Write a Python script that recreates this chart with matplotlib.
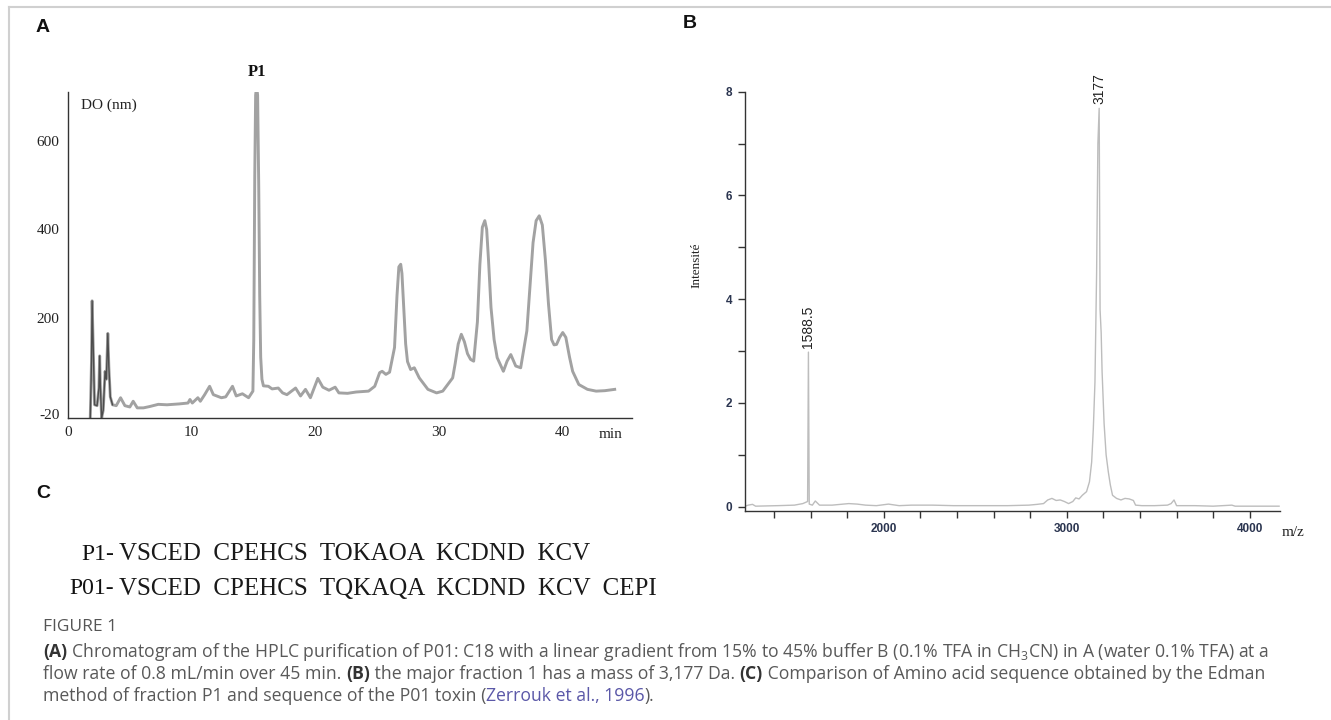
import matplotlib
matplotlib.use('Agg')
import matplotlib.pyplot as plt
from matplotlib.lines import Line2D
from matplotlib.transforms import blended_transform_factory

plt.rcParams['mathtext.fontset'] = 'custom'
plt.rcParams['mathtext.rm'] = 'Open Sans'
plt.rcParams['mathtext.it'] = 'Open Sans:italic'
plt.rcParams['mathtext.bf'] = 'Open Sans:bold'

# ---------------- data: panel A (HPLC chromatogram) ----------------
A_time = [1.80, 1.90, 1.95, 2.05, 2.15, 2.35, 2.50, 2.56, 2.62, 2.72,
          2.85, 3.00, 3.10, 3.22, 3.30, 3.42, 3.60, 3.90, 4.25, 4.60,
          5.00, 5.27, 5.60, 6.10, 6.60, 7.30, 8.00, 9.00, 9.70, 9.86,
          10.05, 10.50, 10.70, 11.05, 11.45, 11.75, 12.40, 12.75, 13.30, 13.60,
          14.10, 14.60, 14.95, 15.02, 15.10, 15.17, 15.25, 15.33, 15.42, 15.50,
          15.58, 15.68, 15.80, 16.20, 16.50, 17.00, 17.35, 17.70, 18.40, 18.80,
          19.20, 19.60, 20.20, 20.60, 21.10, 21.60, 21.90, 22.60, 23.30, 24.30,
          24.80, 25.20, 25.40, 25.70, 26.00, 26.40, 26.60, 26.75, 26.90, 27.00,
          27.15, 27.30, 27.45, 27.70, 28.00, 28.40, 29.10, 29.80, 30.30, 30.80,
          31.10, 31.30, 31.55, 31.80, 32.05, 32.30, 32.55, 32.80, 33.10, 33.30,
          33.50, 33.70, 33.85, 34.00, 34.20, 34.45, 34.70, 35.20, 35.50, 35.80,
          36.20, 36.60, 37.10, 37.35, 37.60, 37.85, 38.10, 38.35, 38.60, 38.85,
          39.10, 39.30, 39.50, 39.75, 40.00, 40.25, 40.55, 40.80, 41.30, 42.00,
          42.70, 43.40, 44.20]
A_signal = [-28, 100, 238, 120, 2, 0, 40, 113, 40, -28,
            -10, 78, 60, 164, 90, 20, 2, 0, 18, 0,
            -3, 10, -5, -5, -2, 3, 2, 4, 6, 14,
            6, 18, 10, 25, 44, 25, 18, 20, 44, 22,
            27, 18, 33, 150, 520, 705, 724, 705, 500, 250,
            110, 60, 45, 44, 38, 40, 29, 25, 40, 22,
            37, 18, 62, 42, 35, 42, 29, 28, 31, 33,
            44, 75, 78, 71, 76, 132, 250, 315, 321, 300,
            220, 140, 100, 82, 86, 63, 37, 29, 33, 52,
            63, 95, 140, 162, 145, 118, 105, 101, 190, 320,
            405, 420, 400, 330, 223, 150, 109, 78, 101, 116,
            90, 86, 170, 270, 370, 420, 431, 410, 330, 230,
            150, 138, 139, 155, 166, 155, 110, 78, 48, 37,
            33, 34, 37]
A_xticks = [0, 10, 20, 30, 40]
A_xticklabels = ['0', '10', '20', '30', '40']
A_yticks = [-20, 200, 400, 600]
A_yticklabels = ['-20', '200', '400', '600']
A_peak_label = 'P1'
A_peak_time = 15.25

# ---------------- data: panel B (mass spectrum) ----------------
B_mz = [1242, 1260, 1283, 1300, 1420, 1512, 1558, 1571, 1584, 1588.5,
        1593, 1610, 1626, 1649, 1718, 1809, 1855, 1901, 1960, 2026,
        2084, 2152, 2267, 2381, 2495, 2587, 2678, 2793, 2838, 2873,
        2896, 2919, 2942, 2964, 2987, 3010, 3033, 3049, 3067, 3085,
        3108, 3124, 3136, 3145, 3154, 3163, 3170, 3177, 3182, 3188,
        3193, 3204, 3215, 3227, 3238, 3250, 3272, 3296, 3318, 3341,
        3364, 3376, 3410, 3480, 3550, 3570, 3586, 3600, 3700, 3800,
        3902, 3920, 4000, 4160]
B_intensity = [0.01, 0.03, 0.045, 0.01, 0.02, 0.03, 0.06, 0.08, 0.10, 2.98,
               0.05, 0.03, 0.11, 0.03, 0.03, 0.06, 0.05, 0.03, 0.02, 0.05,
               0.02, 0.03, 0.03, 0.02, 0.02, 0.02, 0.02, 0.03, 0.045, 0.06,
               0.13, 0.16, 0.12, 0.13, 0.10, 0.06, 0.10, 0.17, 0.15, 0.22,
               0.29, 0.48, 0.86, 1.5, 2.4, 4.5, 7.0, 7.68, 3.8, 3.35,
               2.6, 1.6, 1.0, 0.67, 0.42, 0.22, 0.16, 0.13, 0.16, 0.15,
               0.12, 0.03, 0.02, 0.02, 0.03, 0.06, 0.13, 0.02, 0.02, 0.01,
               0.03, 0.01, 0.01, 0.01]
B_peak_mz = [1588.5, 3177]
B_peak_top = [2.98, 7.68]
B_peak_labels = ['1588.5', '3177']
B_xticks = [2000, 3000, 4000]
B_xminor = [1400, 1600, 1800, 2200, 2400, 2600, 2800, 3200, 3400, 3600, 3800]
B_yticks = [0, 2, 4, 6, 8]
B_yminor = [1, 3, 5, 7]

# ---------------- data: panel C (sequences) ----------------
C_prefix = ['P1-', 'P01-']
C_sequence = ['VSCED  CPEHCS  TOKAOA  KCDND  KCV',
              'VSCED  CPEHCS  TQKAQA  KCDND  KCV  CEPI']

# ---------------- caption ----------------
caption_title = 'FIGURE 1'
caption_lines = [
    [('(A)', 'b'), (' Chromatogram of the HPLC purification of P01: C18 with a linear gradient '
                    'from 15% to 45% buffer B (0.1% TFA in CH$_3$CN) in A (water 0.1% TFA) at a', 'n')],
    [('flow rate of 0.8 mL/min over 45 min. ', 'n'), ('(B)', 'b'),
     (' the major fraction 1 has a mass of 3,177 Da. ', 'n'), ('(C)', 'b'),
     (' Comparison of Amino acid sequence obtained by the Edman', 'n')],
    [('method of fraction P1 and sequence of the P01 toxin (', 'n'),
     ('Zerrouk et al., 1996', 'l'), (').', 'n')],
]

W, H = 1331, 720
fig = plt.figure(figsize=(W / 100, H / 100), dpi=100)


def fx(x):
    return x / W


def fy(y):
    return 1 - y / H


# outer frame lines
fig.add_artist(Line2D([fx(9), 1], [fy(7), fy(7)], color='#d0d0d0', lw=1.5))
fig.add_artist(Line2D([fx(9), fx(9)], [fy(7), 0], color='#d0d0d0', lw=1.5))

serif = 'Liberation Serif'
sans = 'Liberation Sans'

# ---------------- panel A ----------------
axA = fig.add_axes([fx(68), fy(418), fx(632) - fx(68), fy(92) - fy(418)])
axA.plot(A_time, A_signal, color='#a2a2a2', lw=2.1, solid_joinstyle='round')
axA.plot(A_time[:17], A_signal[:17], color='#4d4d4d', lw=1.0)
axA.set_xlim(0, 45.6)
axA.set_ylim(-28, 712)
for s in ['top', 'right']:
    axA.spines[s].set_visible(False)
for s in ['left', 'bottom']:
    axA.spines[s].set_color('#333333')
    axA.spines[s].set_linewidth(1.0)
axA.set_xticks(A_xticks)
axA.set_xticklabels(A_xticklabels, fontfamily=serif, fontsize=11)
axA.set_yticks(A_yticks)
axA.set_yticklabels(A_yticklabels, fontfamily=serif, fontsize=11)
axA.tick_params(length=0, pad=6, colors='#222222')
trA = blended_transform_factory(axA.transData, axA.transAxes)
axA.text(43.9, -0.03, 'min', transform=trA, ha='center', va='top',
         fontfamily=serif, fontsize=11, color='#222222')
axA.text(0.023, 0.96, 'DO (nm)', transform=axA.transAxes, ha='left', va='center',
         fontfamily=serif, fontsize=11, color='#222222')
axA.text(A_peak_time, 1.062, A_peak_label, transform=trA, ha='center', va='center',
         fontfamily=serif, fontsize=12, fontweight='bold', color='#111111', clip_on=False)

# ---------------- panel B ----------------
axB = fig.add_axes([fx(745), fy(511), fx(1280) - fx(745), fy(91.7) - fy(511)])
axB.plot(B_mz, B_intensity, color='#bdbdbd', lw=1.0)
axB.set_xlim(1242, 4165)
axB.set_ylim(-0.083, 8)
for s in ['top', 'right']:
    axB.spines[s].set_visible(False)
for s in ['left', 'bottom']:
    axB.spines[s].set_color('#333333')
    axB.spines[s].set_linewidth(1.0)
axB.set_xticks(B_xticks)
axB.set_xticks(B_xminor, minor=True)
axB.set_yticks(B_yticks)
axB.set_yticks(B_yminor, minor=True)
axB.tick_params(which='both', length=5, width=1, color='#333333', pad=4)
for lab in axB.get_xticklabels() + axB.get_yticklabels():
    lab.set_fontfamily(sans)
    lab.set_fontweight('bold')
    lab.set_fontsize(8.5)
    lab.set_color('#2b3550')
trB = blended_transform_factory(axB.transData, axB.transAxes)
axB.text(4175, -0.035, 'm/z', transform=trB, ha='left', va='top',
         fontfamily=serif, fontsize=11, color='#222222', clip_on=False)
axB.text(-0.09, 0.585, 'Intensité', transform=axB.transAxes, rotation=90,
         ha='center', va='center', fontfamily=serif, fontsize=9.5, color='#222222')
for mz, top, lab in zip(B_peak_mz, B_peak_top, B_peak_labels):
    axB.text(mz, top + 0.08, lab, rotation=90, ha='center', va='bottom',
             fontfamily=['Liberation Sans Narrow', 'Liberation Sans'], fontsize=10,
             color='#222222', clip_on=False)

# ---------------- panel labels ----------------
for lab, x, y in [('A', 36, 27), ('B', 683, 23), ('C', 36, 493)]:
    fig.text(fx(x), fy(y), lab, ha='left', va='center', fontfamily=sans,
             fontsize=14, fontweight='bold', color='#111111')

# ---------------- panel C ----------------
for pre, seq, y in zip(C_prefix, C_sequence, [554, 589]):
    fig.text(fx(114), fy(y), pre, ha='right', va='center', fontfamily=serif,
             fontsize=17, color='#111111')
    fig.text(fx(119), fy(y), seq, ha='left', va='center', fontfamily=serif,
             fontsize=18, color='#1a1a1a')

# ---------------- caption ----------------
fig.text(fx(43), fy(627), caption_title, ha='left', va='center', fontfamily='Open Sans',
         fontsize=12.5, color='#555555')
renderer = fig.canvas.get_renderer()
styles = {'n': dict(color='#595959'), 'b': dict(color='#333333', fontweight='bold'),
          'l': dict(color='#5b58a8')}
for line, y in zip(caption_lines, [652, 674, 696]):
    x = fx(43)
    for txt, st in line:
        t = fig.text(x, fy(y), txt, ha='left', va='center', fontfamily='Open Sans',
                     fontsize=12.7, **styles[st])
        bb = t.get_window_extent(renderer)
        x += bb.width / fig.bbox.width

fig.savefig('out.png', dpi=100, facecolor='white')
